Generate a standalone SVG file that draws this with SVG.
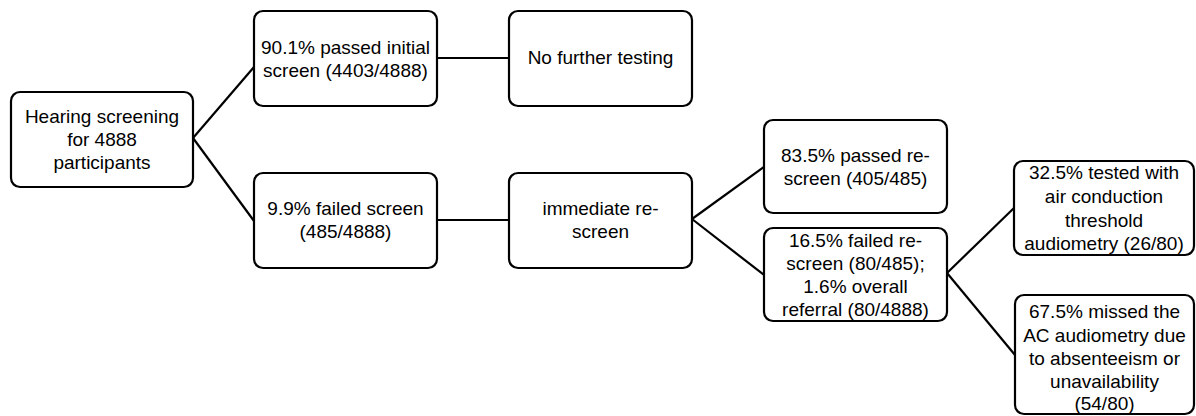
<svg xmlns="http://www.w3.org/2000/svg" width="1196" height="416" viewBox="0 0 1196 416">
<style>
.box{fill:#fff;stroke:#000;stroke-width:2.2}
.t{font-family:"Liberation Sans",Arial,sans-serif;font-size:19px;fill:#000;text-anchor:middle}
.c{stroke:#000;stroke-width:2.2;fill:none}
</style>
<rect width="1196" height="416" fill="#fff"/>
<g id="connectors">
<line class="c" x1="193" y1="138" x2="254" y2="67"/>
<line class="c" x1="193" y1="138" x2="254" y2="221"/>
<line class="c" x1="437" y1="58" x2="509" y2="58"/>
<line class="c" x1="437" y1="220" x2="509" y2="220"/>
<line class="c" x1="692" y1="219" x2="764" y2="167"/>
<line class="c" x1="692" y1="219" x2="764" y2="275"/>
<line class="c" x1="947" y1="273" x2="1014" y2="208"/>
<line class="c" x1="947" y1="273" x2="1015" y2="355"/>
</g>
<g id="root">
<rect class="box" x="11" y="92" width="182" height="95" rx="9"/>
<text class="t" x="102" y="123">Hearing screening</text>
<text class="t" x="102" y="146">for 4888</text>
<text class="t" x="102" y="169">participants</text>
</g>
<g id="passed">
<rect class="box" x="254" y="11" width="183" height="95" rx="9"/>
<text class="t" x="345.5" y="54">90.1% passed initial</text>
<text class="t" x="345.5" y="77">screen (4403/4888)</text>
</g>
<g id="nofurther">
<rect class="box" x="509" y="11" width="183" height="95" rx="9"/>
<text class="t" x="600.5" y="64">No further testing</text>
</g>
<g id="failed">
<rect class="box" x="254" y="173" width="183" height="95" rx="9"/>
<text class="t" x="345.5" y="215">9.9% failed screen</text>
<text class="t" x="345.5" y="238">(485/4888)</text>
</g>
<g id="rescreen">
<rect class="box" x="509" y="173" width="183" height="95" rx="9"/>
<text class="t" x="600.5" y="215">immediate re-</text>
<text class="t" x="600.5" y="238">screen</text>
</g>
<g id="passedre">
<rect class="box" x="764" y="120" width="183" height="93" rx="9"/>
<text class="t" x="855.5" y="162">83.5% passed re-</text>
<text class="t" x="855.5" y="185">screen (405/485)</text>
</g>
<g id="failedre">
<rect class="box" x="764" y="228" width="183" height="93" rx="9"/>
<text class="t" x="855.5" y="247">16.5% failed re-</text>
<text class="t" x="855.5" y="270">screen (80/485);</text>
<text class="t" x="855.5" y="293">1.6% overall</text>
<text class="t" x="855.5" y="316">referral (80/4888)</text>
</g>
<g id="tested">
<rect class="box" x="1014" y="161" width="180" height="94" rx="9"/>
<text class="t" x="1104" y="179">32.5% tested with</text>
<text class="t" x="1104" y="203">air conduction</text>
<text class="t" x="1104" y="227">threshold</text>
<text class="t" x="1104" y="250">audiometry (26/80)</text>
</g>
<g id="missed">
<rect class="box" x="1015" y="295" width="179" height="119" rx="9"/>
<text class="t" x="1104.5" y="318">67.5% missed the</text>
<text class="t" x="1104.5" y="342">AC audiometry due</text>
<text class="t" x="1104.5" y="365">to absenteeism or</text>
<text class="t" x="1104.5" y="388">unavailability</text>
<text class="t" x="1104.5" y="410">(54/80)</text>
</g>
</svg>
